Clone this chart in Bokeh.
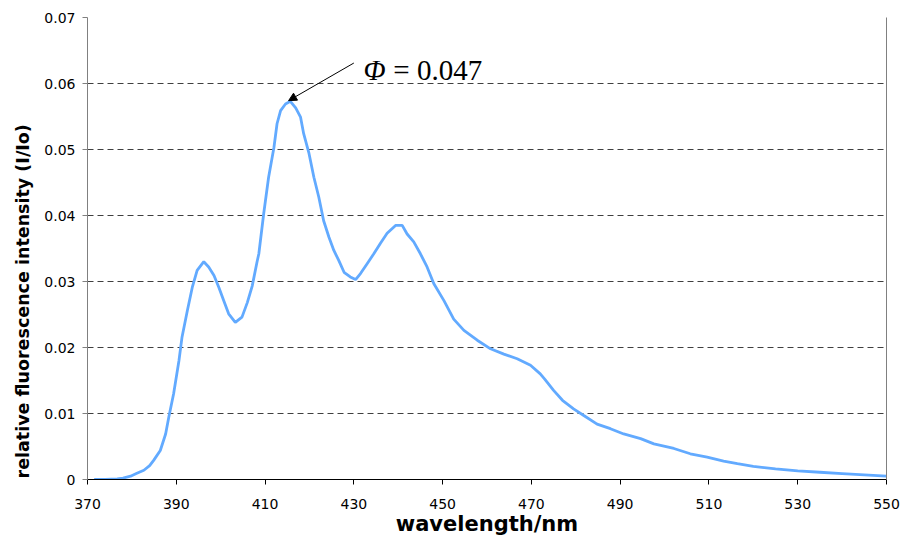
import math
from bokeh.plotting import figure
from bokeh.models import (Range1d, FixedTicker, PrintfTickFormatter, LinearAxis,
                          Label, Arrow, NormalHead, ColumnDataSource, Title)
from bokeh.embed import file_html
from bokeh.resources import INLINE

wavelength = [371.5, 374.0, 376.7, 378.0, 379.7, 381.0, 382.7, 384.0, 384.9, 386.4,
              387.6, 388.3, 389.4, 390.6, 391.3, 392.5, 393.6, 394.7, 396.2, 397.3,
              398.5, 399.6, 400.7, 401.8, 403.3, 404.8, 406.0, 407.1, 408.2, 408.6,
              409.7, 410.8, 412.0, 412.7, 413.5, 414.6, 415.7, 416.9, 418.0, 418.7,
              419.9, 421.0, 422.1, 423.2, 424.4, 425.5, 426.6, 427.8, 429.2, 430.4,
              431.5, 433.0, 434.5, 436.0, 437.5, 439.4, 440.9, 442.0, 443.5, 445.0,
              446.5, 448.0, 450.3, 452.5, 454.8, 457.8, 460.8, 463.8, 466.8, 469.8,
              472.0, 473.0, 475.0, 477.0, 479.5, 481.8, 484.8, 487.8, 490.8, 494.6,
              497.6, 502.1, 505.8, 509.6, 513.3, 516.4, 520.0, 525.0, 530.0, 535.0,
              540.0, 545.0, 550.0]
intensity = [0.0000, 0.0000, 0.0001, 0.0002, 0.0005, 0.0009, 0.0014, 0.0021, 0.0029, 0.0044,
             0.0069, 0.0094, 0.0130, 0.0180, 0.0216, 0.0256, 0.0291, 0.0317, 0.0330, 0.0322,
             0.0309, 0.0291, 0.0271, 0.0251, 0.0238, 0.0246, 0.0268, 0.0293, 0.0330, 0.0342,
             0.0403, 0.0458, 0.0503, 0.0539, 0.0559, 0.0569, 0.0573, 0.0563, 0.0549, 0.0524,
             0.0494, 0.0458, 0.0428, 0.0392, 0.0367, 0.0347, 0.0332, 0.0314, 0.0307, 0.0303,
             0.0312, 0.0327, 0.0342, 0.0358, 0.0373, 0.0385, 0.0385, 0.0372, 0.0360, 0.0342,
             0.0322, 0.0297, 0.0271, 0.0243, 0.0226, 0.0211, 0.0198, 0.0190, 0.0183, 0.0173,
             0.0160, 0.0152, 0.0135, 0.0120, 0.0107, 0.0097, 0.0084, 0.0077, 0.0069, 0.0062,
             0.0054, 0.0047, 0.0039, 0.0034, 0.0028, 0.0024, 0.0020, 0.0016, 0.0013, 0.0011,
             0.0009, 0.0007, 0.0005]

x_ticks = [370, 390, 410, 430, 450, 470, 490, 510, 530, 550]
y_ticks = [0, 0.01, 0.02, 0.03, 0.04, 0.05, 0.06, 0.07]

x_title = "wavelength/nm"
y_title = "relative fluorescence intensity (I/Io)"
phi_symbol = "Φ"
phi_value = "= 0.047"

FONT = "DejaVu Sans"

src = ColumnDataSource(dict(x=wavelength, y=intensity))

p = figure(width=901, height=538, output_backend="svg", toolbar_location=None,
           x_range=Range1d(370, 550), y_range=Range1d(0, 0.07),
           min_border_left=87, min_border_right=15, min_border_top=17,
           min_border_bottom=59, background_fill_color="white",
           border_fill_color="white")
p.outline_line_color = None

p.line("x", "y", source=src, line_color="#62AAFF", line_width=2.8)

# axes
xa = p.xaxis[0]
xa.ticker = FixedTicker(ticks=x_ticks)
xa.axis_line_color = "black"
xa.major_tick_line_color = "black"
xa.major_tick_out = 5
xa.major_tick_in = 0
xa.minor_tick_line_color = None
xa.major_label_text_font = FONT
xa.major_label_text_font_size = "14px"
xa.major_label_text_color = "black"
xa.major_label_standoff = 14
xa.axis_label = x_title
xa.axis_label_text_font = FONT
xa.axis_label_text_font_style = "bold"
xa.axis_label_text_font_size = "21px"
xa.axis_label_text_color = "black"
xa.axis_label_standoff = 0

ya = p.yaxis[0]
ya.ticker = FixedTicker(ticks=y_ticks)
ya.formatter = PrintfTickFormatter(format="%.2f")
ya.major_label_overrides = {0: "0"}
ya.axis_line_color = "#808080"
ya.major_tick_line_color = "#808080"
ya.major_tick_out = 5
ya.major_tick_in = 0
ya.minor_tick_line_color = None
ya.major_label_text_font = FONT
ya.major_label_text_font_size = "14px"
ya.major_label_text_color = "black"
ya.major_label_standoff = 7

ra = LinearAxis(ticker=FixedTicker(ticks=[]), major_label_text_font_size="0px",
                axis_line_color="#808080", major_tick_line_color=None,
                minor_tick_line_color=None)
p.add_layout(ra, "right")

p.xgrid.visible = False
p.ygrid.ticker = FixedTicker(ticks=y_ticks)
p.ygrid.grid_line_color = "#404040"
p.ygrid.grid_line_dash = "6 4"
p.ygrid.grid_line_width = 1

# y title in the left panel, starting from the bottom of the frame
p.add_layout(Title(text=y_title, align="left", offset=1, text_font=FONT,
                   text_font_style="bold", text_font_size="17.5px",
                   text_color="black", standoff=17), "left")

# annotation
p.add_layout(Arrow(end=NormalHead(size=8, fill_color="black", line_color="black"),
                   x_start=430.0, y_start=0.0631, x_end=415.3, y_end=0.0574,
                   line_color="black", line_width=1))
p.add_layout(Label(x=432.2, y=0.0620, text=phi_symbol, text_font="Liberation Serif",
                   text_font_style="italic", text_font_size="29px",
                   text_baseline="alphabetic", text_color="black"))
p.add_layout(Label(x=438.9, y=0.0620, text=phi_value, text_font="Liberation Serif",
                   text_font_size="29px", text_baseline="alphabetic",
                   text_color="black"))

open("out.html", "w").write(file_html(p, INLINE))
